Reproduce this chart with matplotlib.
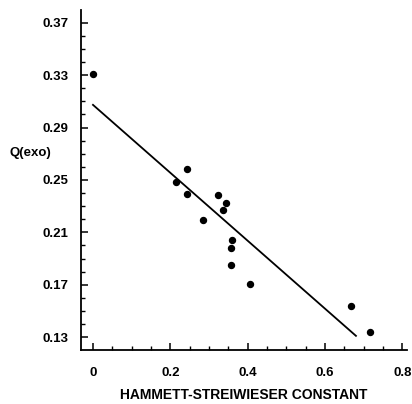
import matplotlib
matplotlib.use("Agg")
import matplotlib.pyplot as plt
from matplotlib.ticker import MultipleLocator, FixedLocator

# Data
sigma = [0.0, 0.215, 0.244, 0.244, 0.285, 0.324, 0.336, 0.345, 0.356, 0.356, 0.360, 0.407, 0.666, 0.717]
q_exo = [0.331, 0.2487, 0.2584, 0.2395, 0.2194, 0.2385, 0.227, 0.2326, 0.1848, 0.198, 0.2039, 0.1702, 0.1537, 0.1338]

# Regression line endpoints
fit_x = [0.0, 0.68]
fit_y = [0.3073, 0.1310]

xticks = [0, 0.2, 0.4, 0.6, 0.8]
xticklabels = ["0", "0.2", "0.4", "0.6", "0.8"]
yticks = [0.13, 0.17, 0.21, 0.25, 0.29, 0.33, 0.37]
yticklabels = ["0.13", "0.17", "0.21", "0.25", "0.29", "0.33", "0.37"]

plt.rcParams['font.family'] = ['Liberation Sans', 'DejaVu Sans']

W, H = 412, 404
fig = plt.figure(figsize=(W / 100, H / 100), dpi=100)
ax = fig.add_axes([81 / W, (H - 350) / H, (407 - 81) / W, (350 - 10) / H])

ax.plot(fit_x, fit_y, color='black', lw=1.3)
ax.plot(sigma, q_exo, 'o', color='black', markersize=4.3)

ax.set_xlim(-0.031, 0.812)
ax.set_ylim(0.1202, 0.3797)

for s in ['top', 'right']:
    ax.spines[s].set_visible(False)
for s in ['left', 'bottom']:
    ax.spines[s].set_linewidth(1.3)

ax.xaxis.set_major_locator(FixedLocator(xticks))
ax.set_xticklabels(xticklabels)
ax.yaxis.set_major_locator(FixedLocator(yticks))
ax.set_yticklabels(yticklabels)
ax.xaxis.set_minor_locator(MultipleLocator(0.05))
ax.yaxis.set_minor_locator(MultipleLocator(0.01))

ax.tick_params(which='major', direction='in', length=5, width=1.1, labelsize=9.5, pad=12.5)
ax.tick_params(axis='y', which='major', pad=9)
ax.tick_params(which='minor', direction='in', length=3, width=1.0)
for lbl in ax.get_xticklabels() + ax.get_yticklabels():
    lbl.set_fontweight('bold')

ax.set_xlabel("HAMMETT-STREIWIESER CONSTANT", fontsize=10, fontweight='bold', labelpad=6.5)
fig.text(9 / W, 1 - 153 / H, "Q(exo)", fontsize=9.5, fontweight='bold', ha='left', va='center')

fig.savefig("out.png", dpi=100)
